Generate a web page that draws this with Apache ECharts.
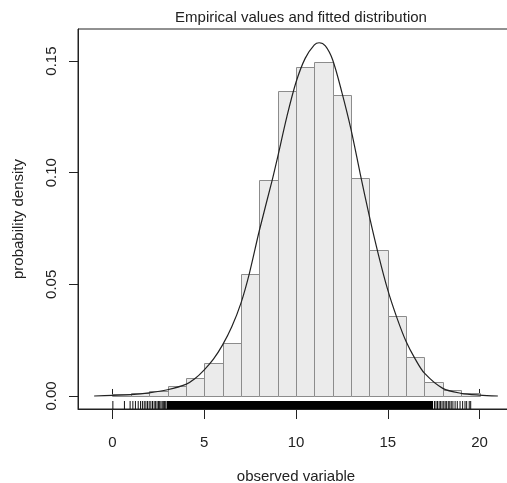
<!DOCTYPE html>
<html>
<head>
<meta charset="utf-8">
<script src="https://cdn.jsdelivr.net/npm/echarts@6/dist/echarts.min.js"></script>
<style>
html,body{margin:0;padding:0;background:#fff;}
#chart{width:507px;height:483px;}
</style>
</head>
<body>
<div id="chart"></div>
<script>
// ---- data ----
const binStarts = [0,1,2,3,4,5,6,7,8,9,10,11,12,13,14,15,16,17,18,19];
const binWidth = 1;
const binDensity = [0.0008,0.0012,0.0022,0.0046,0.0079,0.0149,0.0236,0.0546,0.0966,0.1365,
                    0.1474,0.1496,0.1350,0.0975,0.0655,0.0356,0.0173,0.0063,0.0027,0.0012];

const curveX = [-1,0,1,2,3,4,4.5,5,5.5,6,6.5,7,7.45,8,8.7,9,9.5,10,10.5,11,11.26,11.6,12,12.5,13,13.5,14,14.5,15,15.5,16,16.5,17,18,19,20,21];
const curveY = [0.0000,0.0003,0.0006,0.0014,0.0028,0.0052,0.0078,0.0117,0.0165,0.0229,0.0310,0.0416,0.0546,0.0740,0.0966,0.1070,0.1250,0.1405,0.1512,0.1572,0.1582,0.1568,0.1505,0.1360,0.1193,0.0995,0.0804,0.0630,0.0475,0.0350,0.0244,0.0165,0.0102,0.0034,0.0012,0.0004,0.0000];

// individual rug marks in the sparse tails, and the range where marks merge into a solid band
const rugValues = [0.02,0.65,0.96,1.11,1.25,1.40,1.53,1.63,1.73,1.82,1.91,2.00,2.09,2.18,2.27,2.35,2.43,2.51,2.57,2.64,2.71,2.77,2.83,2.90,
                   17.55,17.63,17.71,17.80,17.88,17.96,18.05,18.13,18.21,18.30,18.38,18.46,18.55,18.67,18.79,18.94,19.08,19.21,19.30,19.44,19.52];
const rugDenseRange = [2.95, 17.47];

const xTicks = [0,5,10,15,20];
const yTicks = [0,0.05,0.10,0.15];
const xRange = [-1.88, 21.88];
const yRange = [-0.00583, 0.16435];

const titleText = 'Empirical values and fitted distribution';
const xName = 'observed variable';
const yName = 'probability density';

// ---- chart ----
const FONT = '"Liberation Sans", Arial, Helvetica, sans-serif';
const INK = '#222';
const chart = echarts.init(document.getElementById('chart'), null, {renderer:'canvas'});

const histData = binStarts.map((s,i)=>[s, s+binWidth, binDensity[i]]);
const curveData = curveX.map((x,i)=>[x, curveY[i]]);

chart.setOption({
  animation:false,
  backgroundColor:'#fff',
  title:{
    text:titleText, left:296, top:5, textAlign:'center',
    textStyle:{fontFamily:FONT, fontSize:15, fontWeight:'normal', color:INK}
  },
  grid:{left:78, top:29, width:436, height:380, outerBoundsMode:'none', containLabel:false,
    show:true, borderColor:INK, borderWidth:1, backgroundColor:'transparent'},
  xAxis:[{
    type:'value', min:xRange[0], max:xRange[1], position:'bottom',
    name:xName, nameLocation:'middle', nameGap:60,
    nameTextStyle:{fontFamily:FONT, fontSize:15, color:INK},
    axisLine:{show:true, onZero:false, lineStyle:{color:INK, width:1}},
    axisTick:{show:true, inside:false, length:10, customValues:xTicks, lineStyle:{color:INK}},
    axisLabel:{show:true, margin:26, customValues:xTicks, fontFamily:FONT, fontSize:15, color:INK},
    splitLine:{show:false}
  },{
    type:'value', min:xRange[0], max:xRange[1], position:'bottom', offset:0,
    axisLine:{show:false},
    axisTick:{show:true, inside:true, length:7, customValues:xTicks, lineStyle:{color:INK}},
    axisLabel:{show:false},
    splitLine:{show:false}
  }],
  yAxis:{
    type:'value', min:yRange[0], max:yRange[1],
    name:yName, nameLocation:'middle', nameGap:52, nameRotate:90,
    nameTextStyle:{fontFamily:FONT, fontSize:15, color:INK},
    axisLine:{show:true, onZero:false, lineStyle:{color:INK, width:1}},
    axisTick:{show:true, inside:false, length:9, customValues:yTicks, lineStyle:{color:INK}},
    axisLabel:{show:true, rotate:90, margin:19, customValues:yTicks, fontFamily:FONT, fontSize:15, color:INK,
      formatter:v=>Number(v).toFixed(2)},
    splitLine:{show:false}
  },
  series:[{
    type:'custom', name:'hist', data:histData, z:2, clip:true,
    renderItem:(params, api)=>{
      const p0 = api.coord([api.value(0), api.value(2)]);
      const p1 = api.coord([api.value(1), 0]);
      return {type:'rect',
        shape:{x:Math.round(p0[0])+0.5, y:Math.round(p0[1])+0.5, width:Math.round(p1[0])-Math.round(p0[0]), height:Math.round(p1[1])-Math.round(p0[1])},
        style:{fill:'#ebebeb', stroke:'#8c8c8c', lineWidth:1}};
    }
  },{
    type:'line', name:'fit', data:curveData, smooth:0.3, showSymbol:false, z:3,
    lineStyle:{color:INK, width:1.2}
  },{
    type:'custom', name:'rug', data:rugValues.map(v=>[v]), z:4, clip:false,
    renderItem:(params, api)=>{
      const p = api.coord([api.value(0), yRange[0]]);
      return {type:'line', shape:{x1:p[0], y1:p[1], x2:p[0], y2:p[1]-8},
        style:{stroke:'#111', lineWidth:1}};
    }
  },{
    type:'custom', name:'rugDense', data:[rugDenseRange], z:4, clip:false,
    renderItem:(params, api)=>{
      const a = api.coord([api.value(0), yRange[0]]);
      const b = api.coord([api.value(1), yRange[0]]);
      return {type:'rect', shape:{x:a[0], y:a[1]-8, width:b[0]-a[0], height:8},
        style:{fill:'#000'}};
    }
  }]
});
</script>
</body>
</html>
